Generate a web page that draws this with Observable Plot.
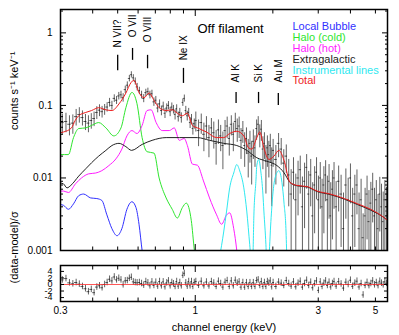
<!DOCTYPE html>
<html><head><meta charset="utf-8">
<script src="https://cdn.jsdelivr.net/npm/d3@7"></script>
<script src="https://cdn.jsdelivr.net/npm/@observablehq/plot@0.6"></script>
<style>
body{margin:0;background:#fff;}
#chart{width:399px;height:335px;position:relative;overflow:hidden;background:#fff;}
#chart svg{display:block;overflow:visible;}
</style></head><body><div id="chart"></div>
<script>
// ---------- observed spectrum (channel energy keV, counts s^-1 keV^-1, 1σ error) ----------
const dataEnergy = [
0.305,0.315,0.325,0.335,0.345,0.355,0.365,0.375,0.385,0.395,0.405,0.415,0.425,0.435,0.445,
0.455,0.465,0.475,0.485,0.495,0.505,0.515,0.525,0.535,0.545,0.555,0.565,0.575,0.585,0.595,
0.607,0.619,0.631,0.643,0.655,0.667,0.679,0.691,0.703,0.715,0.727,0.739,0.751,0.763,0.775,0.787,0.799,0.811,0.823,0.835,0.847,0.859,0.871,0.883,0.895,0.907,0.919,0.931,0.943,0.955,0.967,0.979,0.991,
1.005,1.03,1.055,1.08,1.105,1.13,1.155,1.18,1.205,1.23,1.255,1.28,1.305,1.33,1.355,1.38,1.405,1.43,1.455,1.48,1.505,1.53,1.555,1.58,1.605,1.63,1.655,1.68,1.705,1.73,1.755,1.78,1.805,1.83,1.855,1.88,1.905,1.93,1.955,1.98,
2.005,2.055,2.105,2.155,2.205,2.255,2.305,2.355,2.405,2.455,2.505,2.555,2.605,2.655,2.705,2.755,2.805,2.855,2.905,2.955,3.005,3.055,3.105,3.155,3.205,3.255,3.305,3.355,3.405,3.455,
3.52,3.60,3.68,3.76,3.84,3.92,4.00,4.08,4.16,4.24,4.32,4.40,4.48,4.56,4.64,4.72,4.80,4.88,4.96,5.04,5.12,5.20,5.28,5.36,5.44,5.52];
const dataRate = [
0.058,0.060,0.055,0.057,0.070,0.075,0.068,0.060,0.057,0.062,0.066,0.080,0.086,0.082,0.088,
0.095,0.110,0.100,0.125,0.118,0.135,0.140,0.128,0.165,0.190,0.235,0.265,0.240,0.215,0.180,
0.160,0.140,0.125,0.150,0.155,0.140,0.145,0.112,0.118,0.092,0.105,0.085,0.098,0.078,0.092,0.100,0.082,0.095,0.088,0.075,0.090,0.070,0.080,0.068,0.110,0.125,0.085,0.072,0.080,0.058,0.065,0.048,0.056,
0.062,0.045,0.058,0.040,0.052,0.036,0.049,0.042,0.030,0.046,0.038,0.028,0.045,0.052,0.035,0.055,0.040,0.060,0.048,0.052,0.033,0.045,0.028,0.035,0.022,0.030,0.020,0.032,0.026,0.048,0.055,0.040,0.047,0.025,0.030,0.017,0.026,0.021,0.028,0.015,
0.024,0.018,0.030,0.025,0.016,0.020,0.011,0.006,0.012,0.005,0.010,0.013,0.004,0.009,0.014,0.006,0.011,0.003,0.008,0.012,0.005,0.010,0.004,0.008,0.011,0.005,0.009,0.003,0.007,0.010,
0.004,0.009,0.006,0.002,0.008,0.005,0.010,0.003,0.006,0.008,0.002,0.005,0.0015,0.003,0.006,0.0025,0.0045,0.007,0.003,0.005,0.002,0.006,0.004,0.0025,0.005,0.0035];
const dataError = [
0.018,0.018,0.017,0.017,0.018,0.018,0.016,0.015,0.015,0.015,0.015,0.016,0.016,0.015,0.015,
0.014,0.015,0.014,0.015,0.015,0.016,0.017,0.017,0.019,0.021,0.024,0.026,0.025,0.024,0.021,
0.018,0.017,0.016,0.017,0.018,0.017,0.017,0.015,0.015,0.013,0.014,0.013,0.013,0.012,0.013,0.013,0.012,0.013,0.012,0.012,0.012,0.011,0.011,0.011,0.013,0.014,0.012,0.011,0.011,0.010,0.010,0.009,0.009,
0.019,0.018,0.018,0.017,0.018,0.017,0.017,0.017,0.015,0.017,0.015,0.015,0.017,0.017,0.015,0.017,0.017,0.018,0.017,0.017,0.015,0.015,0.014,0.014,0.012,0.014,0.012,0.014,0.012,0.015,0.015,0.014,0.015,0.012,0.012,0.011,0.012,0.011,0.012,0.011,
0.010,0.010,0.011,0.010,0.0085,0.0085,0.007,0.007,0.007,0.0063,0.007,0.007,0.0063,0.007,0.007,0.0063,0.007,0.0056,0.0063,0.007,0.0056,0.0063,0.0056,0.0063,0.0063,0.0056,0.0063,0.0056,0.0056,0.0063,
0.0049,0.0056,0.0049,0.0042,0.0053,0.0049,0.0056,0.0042,0.0049,0.0049,0.0042,0.0046,0.0017,0.0042,0.0046,0.0042,0.0042,0.0046,0.0042,0.0042,0.0039,0.0042,0.0042,0.0039,0.0042,0.0039];
// residuals (data-model)/σ at the same channels
const residual = [
1.4,1.8,0.5,0.2,0.6,0.1,-0.6,-1.3,-2.2,-1.5,-2.5,-0.8,-0.4,-1.0,0.0,
0.6,1.6,1.1,2.3,1.4,1.9,1.4,-0.1,1.1,1.2,1.9,2.2,0.8,0.6,0.5,
0.6,0.3,-0.2,0.9,0.5,-0.4,0.8,-0.3,0.7,-0.5,0.9,-0.4,0.8,-0.7,0.5,1.1,-0.4,0.6,0.2,-0.6,0.9,-0.5,0.6,-0.4,2.8,3.4,0.5,-0.5,0.9,-0.4,0.9,-0.6,0.6,
0.9,-0.25,1.0,-0.4,0.75,-0.45,0.9,0.45,-0.6,1.0,0.3,-0.8,0.7,1.2,-0.6,1.1,-0.4,1.3,0.4,0.8,-0.8,0.6,-0.8,0.55,-0.6,0.55,-0.6,0.55,-0.6,1.2,1.4,-0.3,0.9,-0.6,0.6,-0.6,0.9,0.4,1.1,-0.7,
0.6,-0.6,0.75,0.4,-0.3,1.2,0.3,-0.5,0.8,-0.7,0.4,1.0,-0.8,0.3,1.3,-0.3,0.7,-1.0,0.25,1.1,-1.8,0.8,-0.6,0.4,1.1,-0.3,0.7,-0.75,0.3,0.9,
-0.5,0.85,0.15,-1.1,0.7,0.0,1.3,-0.55,0.4,1.0,-0.75,0.3,-3.2,-0.3,0.65,-0.35,0.3,1.1,-0.1,0.6,-0.35,1.0,0.4,-0.1,0.8,0.35];

// ---------- model components ----------
const totalE = [0.300,0.308,0.331,0.342,0.353,0.376,0.396,0.422,0.450,0.475,0.506,0.538,0.563,0.578,0.605,0.633,0.662,0.692,0.724,0.771,0.814,0.852,0.891,0.932,0.975,1.019,1.105,1.21,1.289,1.36,1.449,1.543,1.61,1.657,1.733,1.78,1.846,1.93,2.02,2.11,2.21,2.33,2.48,2.72,2.97,3.34,3.79,4.26,4.79,5.43,5.57];
const totalV = [0.042,0.043,0.049,0.062,0.072,0.080,0.085,0.093,0.087,0.085,0.105,0.148,0.206,0.222,0.150,0.128,0.148,0.117,0.093,0.085,0.087,0.078,0.072,0.078,0.053,0.049,0.043,0.036,0.036,0.041,0.044,0.038,0.026,0.025,0.036,0.043,0.026,0.018,0.020,0.024,0.0175,0.0087,0.0079,0.0076,0.0066,0.0060,0.0052,0.0044,0.0037,0.0028,0.0026];
const extraE = [0.300,0.308,0.318,0.329,0.353,0.376,0.396,0.422,0.450,0.475,0.506,0.538,0.566,0.622,0.680,0.771,0.867,1.019,1.136,1.289,1.449,1.584,1.733,1.896,2.075,2.21,2.33,2.48,2.72,2.97,3.34,3.79,4.26,4.79,5.43,5.57];
const extraV = [0.0085,0.0083,0.0073,0.0079,0.0106,0.0134,0.0162,0.020,0.024,0.028,0.030,0.027,0.024,0.029,0.033,0.036,0.036,0.036,0.033,0.030,0.028,0.024,0.019,0.017,0.0148,0.0118,0.0087,0.0078,0.0075,0.0065,0.0059,0.0051,0.0043,0.0036,0.0028,0.0026];
const haloColdE = [0.300,0.322,0.337,0.353,0.376,0.396,0.422,0.450,0.483,0.515,0.538,0.568,0.594,0.622,0.650,0.692,0.724,0.771,0.814,0.852,0.891,0.923,0.965,0.992,1.01];
const haloColdV = [0.021,0.021,0.036,0.048,0.049,0.053,0.058,0.049,0.038,0.049,0.093,0.151,0.106,0.036,0.023,0.022,0.010,0.0053,0.0037,0.0028,0.0039,0.0045,0.0026,0.001,0.0006];
const haloHotE = [0.300,0.308,0.322,0.343,0.362,0.386,0.411,0.434,0.462,0.492,0.519,0.543,0.568,0.594,0.622,0.650,0.674,0.705,0.744,0.793,0.829,0.867,0.906,0.932,0.975,1.019,1.076,1.136,1.21,1.265,1.323,1.36,1.41,1.449,1.47];
const haloHotV = [0.0066,0.0066,0.0063,0.0083,0.0100,0.0114,0.0117,0.0126,0.0148,0.0183,0.025,0.038,0.045,0.041,0.053,0.085,0.087,0.058,0.045,0.045,0.049,0.033,0.035,0.028,0.0155,0.015,0.0091,0.0053,0.0031,0.0023,0.0031,0.0033,0.0020,0.001,0.0006];
const bubbleE = [0.300,0.308,0.322,0.337,0.353,0.369,0.393,0.415,0.434,0.454,0.475,0.497,0.519,0.543,0.568,0.589,0.605,0.622,0.635];
const bubbleV = [0.0043,0.0042,0.0037,0.0044,0.0057,0.0060,0.0053,0.0052,0.0049,0.0031,0.0020,0.0016,0.0020,0.0037,0.0047,0.0039,0.0023,0.001,0.0006];
const instE = [1.242,1.289,1.323,1.36,1.41,1.449,1.488,1.543,1.584,1.627,1.657,1.673,1.688,1.719,1.733,1.764,1.795,1.83,1.846,1.88,1.896,1.93,1.965,2.0,2.04,2.11,2.17,2.21,2.25,2.27];
const instV = [0.0008,0.0018,0.0035,0.0073,0.0117,0.0153,0.0125,0.0073,0.0035,0.0012,0.0006,0.0008,0.0030,0.0090,0.015,0.018,0.0125,0.006,0.0035,0.0012,0.0006,0.0008,0.0025,0.0060,0.010,0.0126,0.0086,0.0045,0.0018,0.0006];

// ---------- line identifications ----------
const lineNames = ["N VII?","O VII","O VIII","Ne IX","Al K","Si K","Au M"];
const lineEnergy = [0.50,0.571,0.653,0.90,1.44,1.76,2.10];
const lineMarkTop = [0.49,0.61,0.49,0.324,0.151,0.151,0.146];
const lineMarkBottom = [0.30,0.418,0.32,0.201,0.106,0.106,0.100];
const lineLabelBase = [0.63,0.87,0.74,0.418,0.207,0.207,0.207];

// ---------- legend ----------
const legendLabels = ["Local Bubble","Halo (cold)","Halo (hot)","Extragalactic","Instrumental lines","Total"];
const legendColors = ["#3030ff","#2ee62e","#ff1cff","#222222","#2ee8f0","#ee1c1c"];

// ---------- ticks ----------
const xTickLabels = [0.3,1,3,5];
const xMinorTicks = [0.4,0.5,0.6,0.7,0.8,0.9,2,3,4,5];
const yTickLabels = [0.001,0.01,0.1,1];
const resTicks = [-4,-2,0,2,4];

const yMinorTicks = [];
for (const d of [0.001,0.01,0.1,1]) for (let k = 2; k <= 9; k++) { const t = +(d*k).toPrecision(3); if (t <= 2.1) yMinorTicks.push(t); }

const fontFam = "'Liberation Sans', Arial, Helvetica, sans-serif";
const xDomain = [0.3, 5.57];
const n = dataEnergy.length;
const data = dataEnergy.map((e, i) => ({
  e,
  v: dataRate[i],
  lo: Math.max(dataRate[i] - dataError[i], 0.0004),
  hi: dataRate[i] + dataError[i],
  e0: i === 0 ? e - (dataEnergy[1] - e) / 2 : (dataEnergy[i-1] + e) / 2,
  e1: i === n - 1 ? e + (e - dataEnergy[i-1]) / 2 : (e + dataEnergy[i+1]) / 2,
  r: residual[i]
}));
const pairs = (E, V) => E.map((e, i) => ({e, v: V[i]}));
const idx = lineNames.map((_, i) => i);

const dataStroke = {stroke: "#000", strokeOpacity: 0.62, strokeWidth: 1, clip: true};
const lineOpt = (c) => ({x: "e", y: "v", stroke: c, strokeWidth: 1, curve: "monotone-x", clip: true});

const blank = () => "";
function tickAxes(majorX, minorX, yMaj, yMin, yMajLen) {
  return [
    Plot.axisX(majorX, {anchor: "bottom", tickSize: -6, tickFormat: blank, label: null}),
    Plot.axisX(majorX, {anchor: "top", tickSize: -6, tickFormat: blank, label: null}),
    Plot.axisX(minorX, {anchor: "bottom", tickSize: -3.5, tickFormat: blank, label: null}),
    Plot.axisX(minorX, {anchor: "top", tickSize: -3.5, tickFormat: blank, label: null}),
    Plot.axisY(yMaj, {anchor: "left", tickSize: -yMajLen, tickFormat: blank, label: null}),
    Plot.axisY(yMaj, {anchor: "right", tickSize: -yMajLen, tickFormat: blank, label: null}),
    ...(yMin ? [
      Plot.axisY(yMin, {anchor: "left", tickSize: -3, tickFormat: blank, label: null}),
      Plot.axisY(yMin, {anchor: "right", tickSize: -3, tickFormat: blank, label: null})
    ] : [])
  ];
}

const main = Plot.plot({
  width: 399, height: 252,
  marginTop: 9, marginBottom: 2, marginLeft: 60, marginRight: 12,
  style: {fontFamily: fontFam, fontSize: "10px", background: "white", color: "black", overflow: "visible"},
  x: {type: "log", domain: xDomain, axis: null},
  y: {type: "log", domain: [0.001, 2.1], axis: null},
  marks: [
    Plot.ruleX(data, {x: "e", y1: "lo", y2: "hi", ...dataStroke}),
    Plot.ruleY(data, {y: "v", x1: "e0", x2: "e1", ...dataStroke}),
    Plot.line(pairs(bubbleE, bubbleV), lineOpt(legendColors[0])),
    Plot.line(pairs(haloColdE, haloColdV), lineOpt(legendColors[1])),
    Plot.line(pairs(haloHotE, haloHotV), lineOpt(legendColors[2])),
    Plot.line(pairs(instE, instV), lineOpt(legendColors[4])),
    Plot.line(pairs(extraE, extraV), lineOpt(legendColors[3])),
    Plot.line(pairs(totalE, totalV), lineOpt(legendColors[5])),
    Plot.ruleX(idx, {x: i => lineEnergy[i], y1: i => lineMarkBottom[i], y2: i => lineMarkTop[i], stroke: "black", strokeWidth: 1.3}),
    Plot.text(idx, {x: i => lineEnergy[i], y: i => lineLabelBase[i], text: i => lineNames[i], rotate: -90, textAnchor: "start", fontSize: 10, fill: "black"}),
    Plot.text(["Off filament"], {frameAnchor: "top-left", dx: 137, dy: 14, textAnchor: "start", fontSize: 13, fill: "black"}),
    ...legendLabels.map((t, i) => Plot.text([t], {frameAnchor: "top-left", dx: 232, dy: 13 + i * 10.8, textAnchor: "start", fontSize: 11, fill: legendColors[i]})),
    Plot.axisY(yTickLabels, {anchor: "left", tickSize: 0, tickPadding: 8, tickFormat: d => String(d), label: null, fontSize: 10}),
    ...tickAxes([1], xMinorTicks, yTickLabels, yMinorTicks, 6),
    Plot.text(["counts s\u207B\u00B9 keV\u207B\u00B9"], {frameAnchor: "left", dx: -46, rotate: -90, fontSize: 11, fill: "black"}),
    Plot.frame({stroke: "black", strokeWidth: 1.5})
  ]
});

const resid = Plot.plot({
  width: 399, height: 83,
  marginTop: 13, marginBottom: 34, marginLeft: 60, marginRight: 12,
  style: {fontFamily: fontFam, fontSize: "10px", background: "transparent", color: "black", overflow: "visible"},
  x: {type: "log", domain: xDomain, axis: null},
  y: {domain: [-5.2, 5.8], axis: null},
  marks: [
    Plot.ruleX(data, {x: "e", y1: d => d.r - 1, y2: d => d.r + 1, ...dataStroke}),
    Plot.ruleY(data, {y: "r", x1: "e0", x2: "e1", ...dataStroke}),
    Plot.ruleY([0], {stroke: "#ff2020", strokeOpacity: 0.75, strokeWidth: 1.2}),
    Plot.text(resTicks, {y: d => d, text: d => String(d), frameAnchor: "left", dx: -8, textAnchor: "end", fontSize: 9, fill: "black"}),
    Plot.text(xTickLabels, {x: d => d, text: d => String(d), frameAnchor: "bottom", dy: 12, fontSize: 10, fill: "black"}),
    ...tickAxes([1], xMinorTicks, resTicks, null, 4),
    Plot.text(["(data-model)/\u03C3"], {frameAnchor: "left", dx: -46, rotate: -90, fontSize: 11, fill: "black"}),
    Plot.text(["channel energy (keV)"], {frameAnchor: "bottom", dy: 29, fontSize: 11, fill: "black"}),
    Plot.frame({stroke: "black", strokeWidth: 1.5})
  ]
});

const chart = document.getElementById("chart");
chart.appendChild(main);
chart.appendChild(resid);
</script></body></html>
